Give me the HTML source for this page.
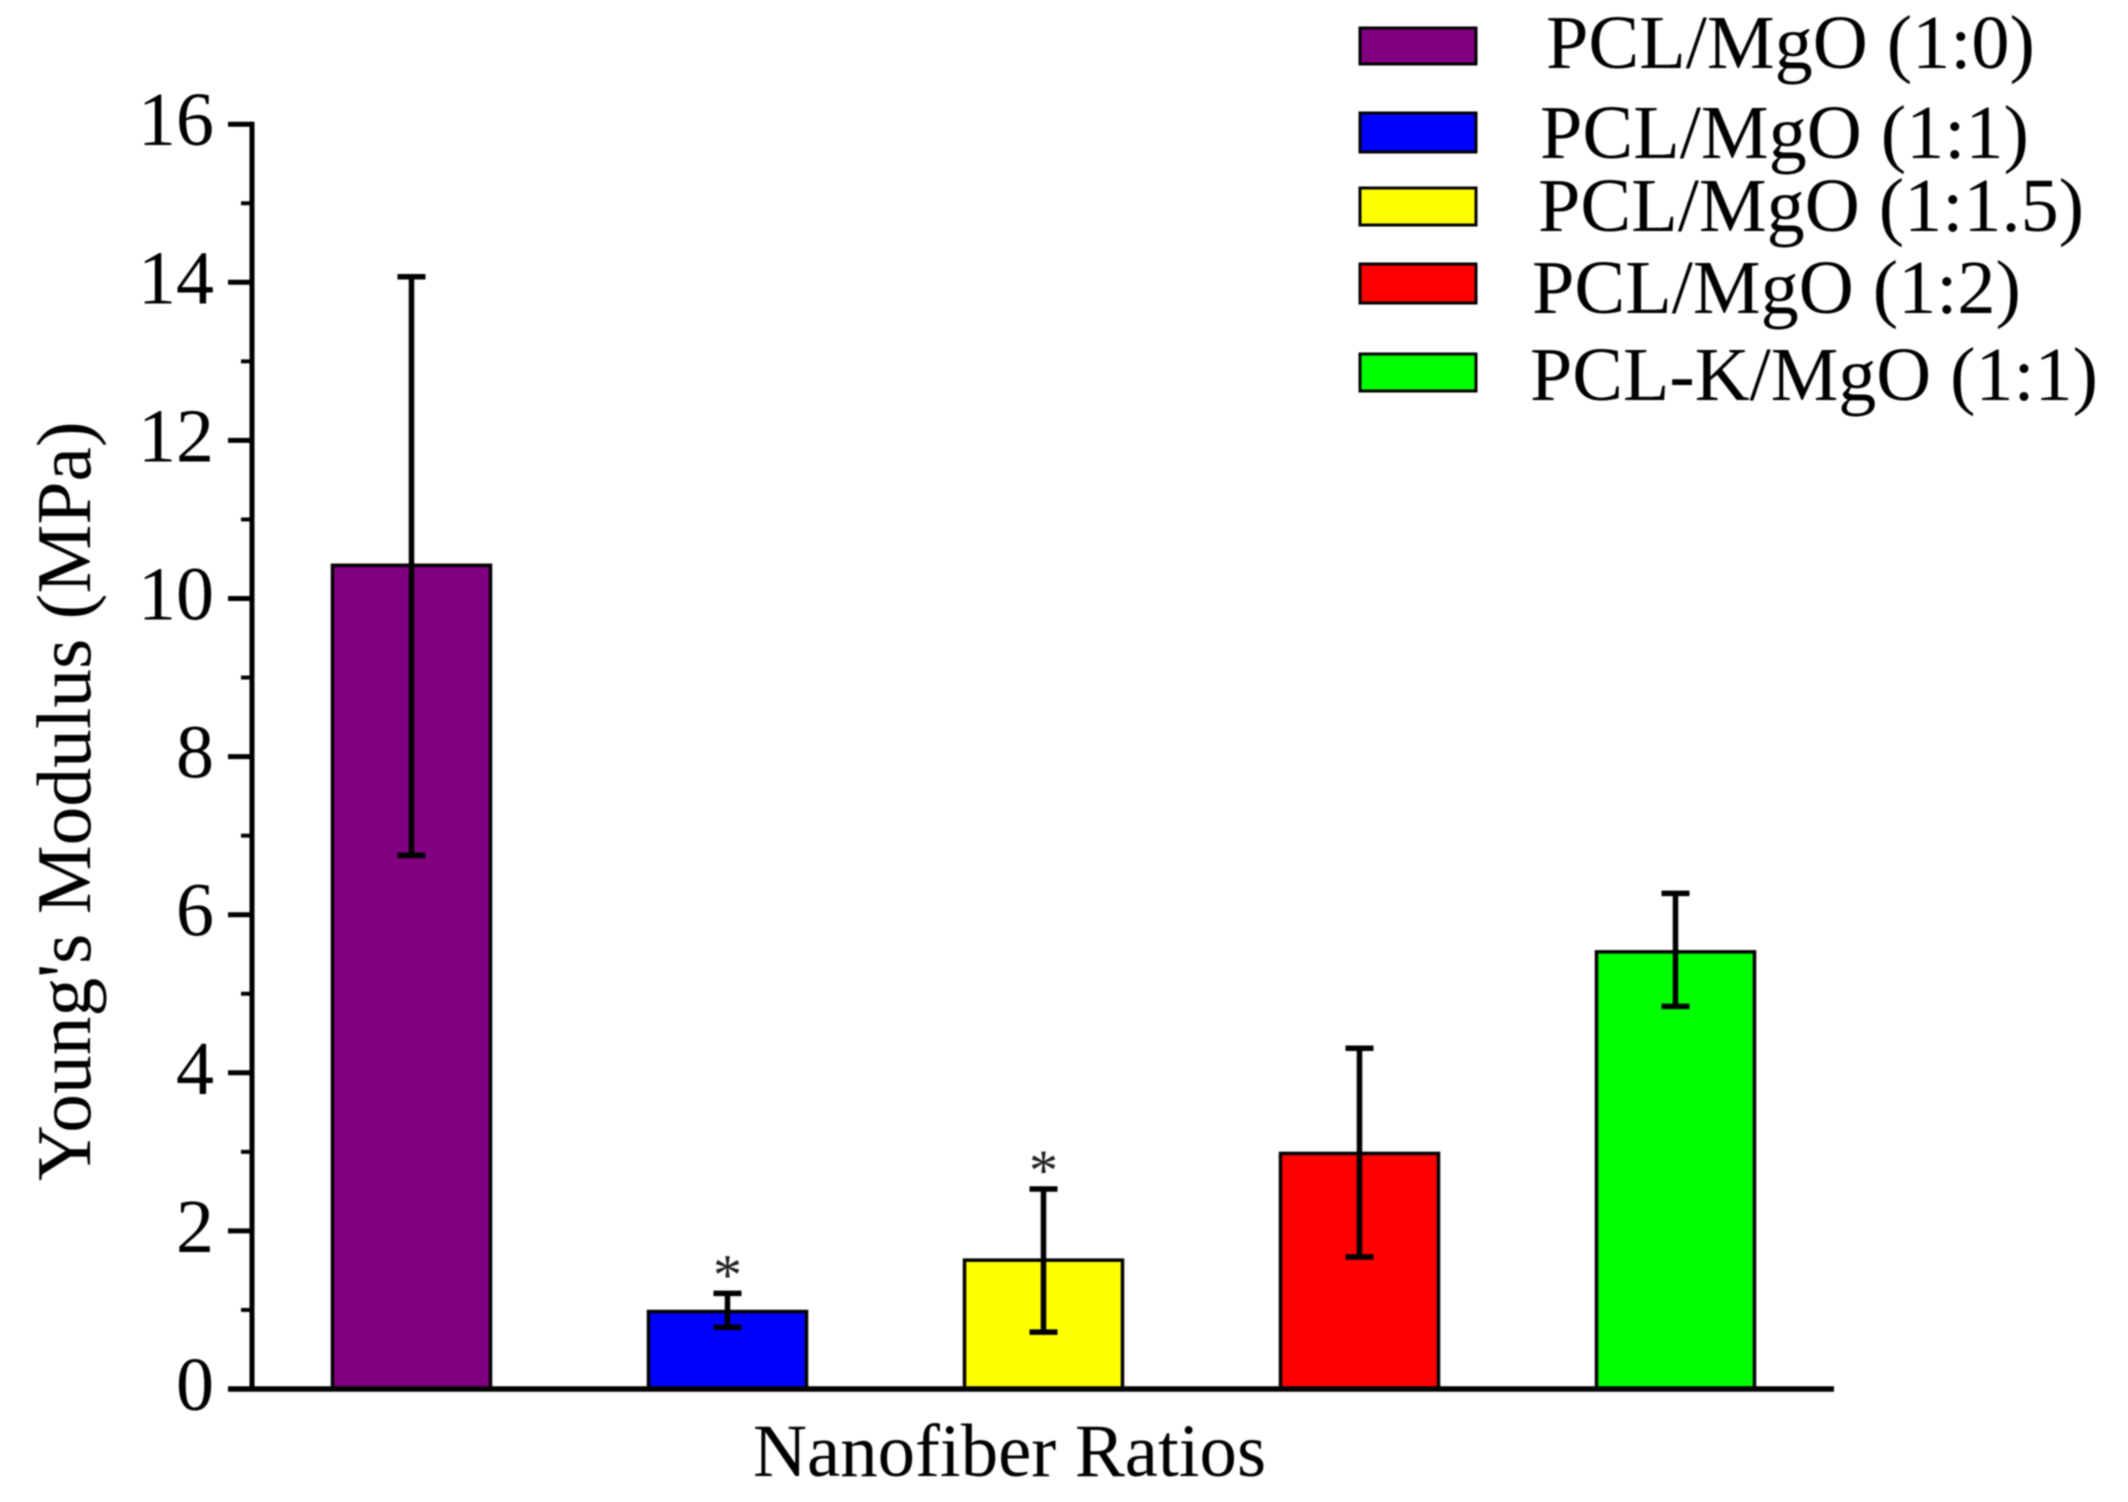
<!DOCTYPE html>
<html>
<head>
<meta charset="utf-8">
<title>Young's Modulus by Nanofiber Ratio</title>
<style>
html,body{margin:0;padding:0;background:#fff;width:2128px;height:1502px;overflow:hidden}
svg{display:block;filter:blur(0.7px)}
text{font-family:"Liberation Serif",serif;fill:#000}
</style>
</head>
<body>
<svg id="chart" xmlns="http://www.w3.org/2000/svg" width="2128" height="1502" viewBox="0 0 2128 1502">
  <rect x="0" y="0" width="2128" height="1502" fill="#fff"/>
  <g id="marks"></g>
  <g id="axes"></g>
  <text transform="translate(90,1181) rotate(-90)" font-size="77.5">Young's Modulus (MPa)</text>
  <text x="753" y="1476" font-size="74.8">Nanofiber Ratios</text>
  <g>
    <g>
      <rect x="1360" y="28" width="116" height="36" fill="#800080" stroke="#000" stroke-width="3"/>
      <text x="1546" y="68" font-size="76.2">PCL/MgO (1:0)</text>
    </g>
    <g>
      <rect x="1360" y="113" width="116" height="39" fill="#0000ff" stroke="#000" stroke-width="3"/>
      <text x="1540" y="158" font-size="76.2">PCL/MgO (1:1)</text>
    </g>
    <g>
      <rect x="1360" y="188" width="116" height="37" fill="#ffff00" stroke="#000" stroke-width="3"/>
      <text x="1538" y="231" font-size="76.2">PCL/MgO (1:1.5)</text>
    </g>
    <g>
      <rect x="1360" y="264" width="116" height="39" fill="#ff0000" stroke="#000" stroke-width="3"/>
      <text x="1532" y="313" font-size="76.2">PCL/MgO (1:2)</text>
    </g>
    <g>
      <rect x="1360" y="354" width="116" height="37" fill="#00ff00" stroke="#000" stroke-width="3"/>
      <text x="1530" y="400" font-size="76">PCL-K/MgO (1:1)</text>
    </g>
  </g>
</svg>
<script>
const categories = ["PCL/MgO (1:0)", "PCL/MgO (1:1)", "PCL/MgO (1:1.5)", "PCL/MgO (1:2)", "PCL-K/MgO (1:1)"];
const barValues = [10.42, 0.98, 1.63, 2.98, 5.53];
const errorUpper = [14.07, 1.21, 2.53, 4.31, 6.27];
const errorLower = [6.75, 0.78, 0.72, 1.67, 4.84];
const barColors = ["#800080", "#0000ff", "#ffff00", "#ff0000", "#00ff00"];
const significant = [false, true, true, false, false];
const majorTickLabels = [0, 2, 4, 6, 8, 10, 12, 14, 16];
const minorTickValues = [1, 3, 5, 7, 9, 11, 13, 15];

const NS = "http://www.w3.org/2000/svg";
const PX_PER_UNIT = 158.1 / 2;
const ZERO_Y = 1389;
const FIRST_CENTER = 411.5;
const BAND_STEP = 316;
const BAR_WIDTH = 158;
const AXIS_X = 252;

function yScale(v) { return ZERO_Y - v * PX_PER_UNIT; }
function xScale(i) { return FIRST_CENTER + i * BAND_STEP; }
function make(tag, attrs) {
  const el = document.createElementNS(NS, tag);
  for (const k in attrs) el.setAttribute(k, attrs[k]);
  return el;
}

const marks = document.getElementById("marks");
const axes = document.getElementById("axes");

categories.forEach(function (cat, i) {
  const cx = xScale(i);
  const slug = cat.toLowerCase().replace(/[^a-z0-9]+/g, "-").replace(/-$/, "");

  const bar = make("rect", {
    x: cx - BAR_WIDTH / 2,
    y: yScale(barValues[i]),
    width: BAR_WIDTH,
    height: ZERO_Y - yScale(barValues[i]),
    fill: barColors[i],
    stroke: "#000",
    "stroke-width": 3.5
  });
  
  
  marks.appendChild(bar);

  const errorGroup = make("g", { stroke: "#000", "stroke-width": 5.5, fill: "none" });
  
  
  const stem = make("line", { x1: cx, x2: cx, y1: yScale(errorUpper[i]), y2: yScale(errorLower[i]) });
  const capTop = make("line", { x1: cx - 14, x2: cx + 14, y1: yScale(errorUpper[i]), y2: yScale(errorUpper[i]) });
  const capBottom = make("line", { x1: cx - 14, x2: cx + 14, y1: yScale(errorLower[i]), y2: yScale(errorLower[i]) });
  errorGroup.appendChild(stem);
  errorGroup.appendChild(capTop);
  errorGroup.appendChild(capBottom);
  marks.appendChild(errorGroup);

  if (significant[i]) {
    const star = make("text", {
      x: cx,
      y: yScale(errorUpper[i]) + 1,
      "font-size": 58,
      "text-anchor": "middle"
    });
    
    
    star.style.fill = "#222";
    star.textContent = "*";
    marks.appendChild(star);
  }
});

const yAxisLine = make("line", { x1: AXIS_X, x2: AXIS_X, y1: yScale(16) - 2.5, y2: ZERO_Y, stroke: "#000", "stroke-width": 5 });


axes.appendChild(yAxisLine);

const xAxisLine = make("line", { x1: 228, x2: 1834, y1: ZERO_Y, y2: ZERO_Y, stroke: "#000", "stroke-width": 5.5 });


axes.appendChild(xAxisLine);

majorTickLabels.forEach(function (v) {
  const tick = make("line", { x1: 228, x2: AXIS_X, y1: yScale(v), y2: yScale(v), stroke: "#000", "stroke-width": 5 });
  
  
  axes.appendChild(tick);

  const label = make("text", { x: 214, y: yScale(v) + 21, "font-size": 76, "text-anchor": "end" });
  
  
  label.textContent = String(v);
  axes.appendChild(label);
});

minorTickValues.forEach(function (v) {
  const tick = make("line", { x1: 241, x2: AXIS_X, y1: yScale(v), y2: yScale(v), stroke: "#000", "stroke-width": 4 });
  
  
  axes.appendChild(tick);
});
</script>
</body>
</html>
